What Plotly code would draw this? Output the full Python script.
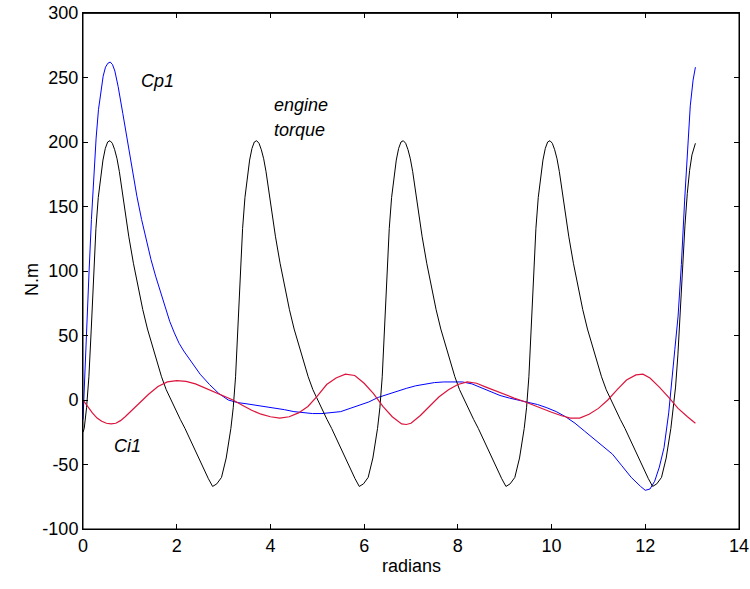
import plotly.graph_objects as go

# Engine torque (black)
torque_x = [0.0, 0.026, 0.076, 0.126, 0.176, 0.226, 0.276, 0.326, 0.376, 0.426, 0.476, 0.526, 0.576,
            0.626, 0.676, 0.726, 0.776, 0.876, 0.976, 1.076, 1.176, 1.276, 1.376, 1.476, 1.576, 1.676,
            1.776, 1.876, 1.976, 2.076, 2.176, 2.276, 2.376, 2.476, 2.576, 2.676, 2.766,
            2.856, 2.956, 3.056, 3.156, 3.206, 3.256, 3.306, 3.356, 3.406, 3.456, 3.506, 3.556, 3.606,
            3.656, 3.706, 3.756, 3.806, 3.856, 3.906, 4.006, 4.106, 4.206, 4.306, 4.406, 4.506, 4.606,
            4.706, 4.806, 4.906, 5.006, 5.106, 5.206, 5.306, 5.406, 5.506, 5.606, 5.706, 5.806, 5.896,
            5.986, 6.086, 6.186, 6.286, 6.336, 6.386, 6.436, 6.486, 6.536, 6.586, 6.636, 6.686, 6.736,
            6.786, 6.836, 6.886, 6.936, 6.986, 7.036, 7.136, 7.236, 7.336, 7.436, 7.536, 7.636, 7.736,
            7.836, 7.936, 8.036, 8.136, 8.236, 8.336, 8.436, 8.536, 8.636, 8.736, 8.836, 8.936, 9.026,
            9.116, 9.216, 9.316, 9.416, 9.466, 9.516, 9.566, 9.616, 9.666, 9.716, 9.766, 9.816, 9.866,
            9.916, 9.966, 10.016, 10.066, 10.116, 10.166, 10.266, 10.366, 10.466, 10.566, 10.666, 10.766,
            10.866, 10.966, 11.066, 11.166, 11.266, 11.366, 11.466, 11.566, 11.666, 11.766, 11.866,
            11.966, 12.066, 12.156,
            12.246, 12.346, 12.446, 12.546, 12.596, 12.646, 12.696, 12.746, 12.796, 12.846, 12.896,
            12.946, 12.996, 13.046, 13.07]
torque_y = [-25, -22, -6, 18, 55, 97, 133, 157, 173, 186, 195, 200, 201,
            199, 194, 187, 177, 151, 127, 106, 87, 70, 55, 42, 30, 18,
            8, 0, -7, -15, -22, -30, -38, -46, -54, -61, -67,
            -65, -60, -45, -22, -6, 18, 55, 97, 133, 157, 173, 186, 195,
            200, 201, 199, 194, 187, 177, 151, 127, 106, 87, 70, 55, 42,
            30, 18, 8, 0, -7, -15, -22, -30, -38, -46, -54, -61, -67,
            -65, -60, -45, -22, -6, 18, 55, 97, 133, 157, 173, 186, 195,
            200, 201, 199, 194, 187, 177, 151, 127, 106, 87, 70, 55, 42,
            30, 18, 8, 0, -7, -15, -22, -30, -38, -46, -54, -61, -67,
            -65, -60, -45, -22, -6, 18, 55, 97, 133, 157, 173, 186, 195,
            200, 201, 199, 194, 187, 177, 151, 127, 106, 87, 70, 55,
            42, 30, 18, 8, 0, -7, -15, -22, -30, -38, -46,
            -54, -61, -67,
            -65, -60, -45, -22, -8, 10, 35, 70, 105, 135, 160,
            178, 190, 197, 199]

# Cp1 (blue)
cp1_x = [0.0, 0.03, 0.08, 0.13, 0.18, 0.23, 0.28, 0.33, 0.38, 0.43, 0.48, 0.53, 0.58, 0.63, 0.68,
         0.75, 0.85, 0.95, 1.05, 1.15, 1.25, 1.35, 1.45, 1.55, 1.65, 1.75, 1.85, 1.95, 2.05, 2.15,
         2.3, 2.5, 2.7, 2.9, 3.1, 3.3, 3.5, 3.7, 3.9, 4.1, 4.3, 4.5, 4.7, 4.9, 5.1, 5.3, 5.5, 5.7,
         5.9, 6.1, 6.3, 6.5, 6.7, 6.9, 7.1, 7.3, 7.5, 7.7, 7.9, 8.1, 8.3, 8.5, 8.7, 8.9, 9.1, 9.3,
         9.5, 9.7, 9.9, 10.1, 10.3, 10.5, 10.7, 10.9, 11.1, 11.3, 11.5, 11.7, 11.9, 12.0, 12.1,
         12.2, 12.3, 12.4, 12.5, 12.56, 12.63, 12.7, 12.77, 12.84, 12.9, 12.96, 13.02, 13.07]
cp1_y = [-15, 15, 55, 100, 140, 175, 203, 225, 240, 251, 258, 261, 262, 260, 255,
         243, 222, 200, 178, 158, 140, 124, 109, 96, 84, 72, 61, 52, 44, 38,
         30, 20, 12, 5, 0, -2, -3, -4, -5, -6, -7.5, -9, -10, -10.5, -10.5, -10, -9, -6.5,
         -4, -1.5, 2, 4.5, 7, 9, 11, 12.5, 13.5, 14, 14.2, 14, 12.5, 9.5, 6.5, 3.5, 1.5, 0,
         -1.5, -3.5, -6, -9, -13, -18, -24, -30, -36, -42, -51, -60, -67, -70, -69,
         -63, -52, -37, -10, 15, 39, 65, 105, 155, 195, 228, 248, 258]

# Ci1 (red)
ci1_x = [0.0, 0.1, 0.2, 0.3, 0.4, 0.5, 0.6, 0.7, 0.8, 0.9, 1.0, 1.1, 1.2, 1.3, 1.4, 1.6, 1.8, 2.0,
         2.2, 2.4, 2.6, 2.8, 3.0, 3.2, 3.4, 3.6, 3.8, 4.0, 4.2, 4.4, 4.6, 4.8, 5.0, 5.2, 5.4, 5.6,
         5.8, 6.0, 6.2, 6.4, 6.6, 6.8, 6.9, 7.0, 7.2, 7.4, 7.6, 7.8, 8.0, 8.2, 8.4, 8.6, 8.8, 9.0,
         9.2, 9.4, 9.6, 9.8, 10.0, 10.2, 10.4, 10.6, 10.8, 11.0, 11.2, 11.4, 11.6, 11.8, 11.95,
         12.1, 12.3, 12.5, 12.7, 12.9, 13.07]
ci1_y = [0, -5, -10, -14, -16.5, -18, -18.5, -18, -16, -13, -9.5, -6, -2.5, 1, 4.5, 10.5, 14, 15,
         14.5, 12.5, 9.5, 6.5, 3, 0, -4, -8, -11, -13, -14, -13, -10, -5, 3, 12, 17, 20,
         19, 13, 5, -5, -13, -18.5, -19, -18, -12, -5, 2.5, 8, 12, 14, 13, 10, 7, 4,
         1.5, -1, -4, -7, -9.5, -12, -14, -14, -11, -6.5, 0, 8, 15.5, 19.5, 20,
         17, 10, 2, -6.5, -13, -18]

x_ticks = [0, 2, 4, 6, 8, 10, 12, 14]
y_ticks = [-100, -50, 0, 50, 100, 150, 200, 250, 300]

FONT = "Liberation Sans, Arial, sans-serif"

fig = go.Figure()
fig.add_trace(go.Scatter(x=cp1_x, y=cp1_y, mode="lines", line=dict(color="#0000ff", width=1), name="Cp1"))
fig.add_trace(go.Scatter(x=torque_x, y=torque_y, mode="lines", line=dict(color="#000000", width=1), name="engine torque"))
fig.add_trace(go.Scatter(x=ci1_x, y=ci1_y, mode="lines", line=dict(color="#dc143c", width=1.2), name="Ci1"))

ann_font = dict(family=FONT, size=18, color="black", style="italic")
fig.add_annotation(x=1.58, y=247, text="Cp1", showarrow=False, font=ann_font, xanchor="center", yanchor="middle")
fig.add_annotation(x=4.03, y=229, text="engine", showarrow=False, font=ann_font, xanchor="left", yanchor="middle")
fig.add_annotation(x=4.03, y=209, text="torque", showarrow=False, font=ann_font, xanchor="left", yanchor="middle")
fig.add_annotation(x=0.94, y=-36, text="Ci1", showarrow=False, font=ann_font, xanchor="center", yanchor="middle")

# plot area in page pixels
PL, PR, PT, PB = 83, 739, 13, 529
W, H = 750, 589
pw, ph = PR - PL, PB - PT

title_font = dict(family=FONT, size=18, color="black")
fig.add_annotation(x=(412 - PL) / pw, y=(PB - 578) / ph, xref="paper", yref="paper",
                   text="radians", showarrow=False, font=title_font)
fig.add_annotation(x=(20 - PL) / pw, y=(PB - 280) / ph, xref="paper", yref="paper",
                   text="N.m", showarrow=False, font=title_font, textangle=-90)

# frame around the plot area, plus an explicit top edge
fig.add_shape(type="rect", xref="paper", yref="paper", x0=0, y0=0, x1=1, y1=1,
              line=dict(color="black", width=1), layer="above")
fig.add_shape(type="line", xref="x", yref="y", x0=0, x1=14, y0=300, y1=300,
              line=dict(color="black", width=1.5), layer="above")

axis_common = dict(showline=True, linecolor="black", linewidth=1, mirror="ticks", ticks="inside",
                   ticklen=5, tickcolor="black", showgrid=False, zeroline=False, automargin=False,
                   tickfont=dict(family=FONT, size=18, color="black"))

fig.update_layout(
    width=W, height=H,
    margin=dict(l=PL, r=W - PR, t=PT, b=H - PB),
    paper_bgcolor="white", plot_bgcolor="white",
    showlegend=False,
    xaxis=dict(range=[0, 14], tickvals=x_ticks, ticktext=[str(v) for v in x_ticks], **axis_common),
    yaxis=dict(range=[-100, 300], tickvals=y_ticks, ticktext=[str(v) for v in y_ticks], **axis_common),
)

# no modebar; remove the browser's default 8px body margin so the figure sits at the page corner
fig.write_html("out.html", config={"displayModeBar": False},
               post_script="document.body.style.margin='0';")
